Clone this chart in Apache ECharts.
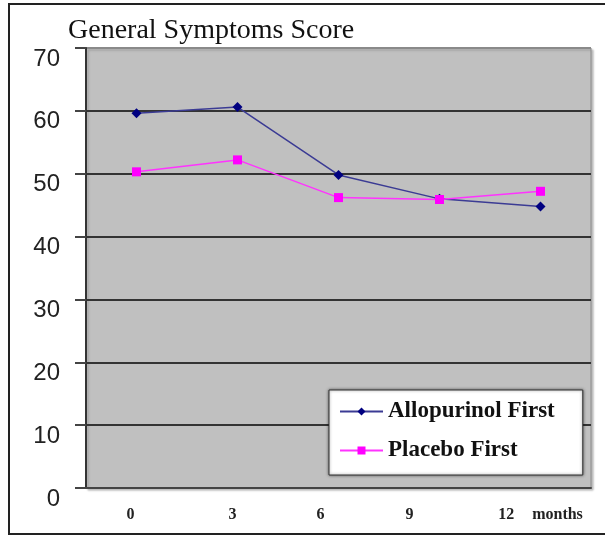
<!DOCTYPE html>
<html>
<head>
<meta charset="utf-8">
<script src="https://cdn.jsdelivr.net/npm/echarts@6/dist/echarts.min.js"></script>
<style>
html,body{margin:0;padding:0;background:#fff;}
#chart{width:605px;height:540px;}
</style>
</head>
<body>
<div id="chart"></div>
<script>
const titleText = 'General Symptoms Score';
const categories = ['0', '3', '6', '9', '12'];
const unitLabel = 'months';
const allopurinolFirst = [59.6, 60.6, 49.8, 46.0, 44.8];
const placeboFirst = [50.3, 52.2, 46.2, 45.9, 47.2];
const seriesNames = ['Allopurinol First', 'Placebo First'];
const yTicks = { min: 0, max: 70, interval: 10 };

const chart = echarts.init(document.getElementById('chart'), null, { renderer: 'canvas' });

const xRich = {
  a0: { padding: [0, 12, 0, 0] },
  a1: { padding: [0, 10, 0, 0] },
  a2: { padding: [0, 36, 0, 0] },
  a3: { padding: [0, 60, 0, 0] },
  a4: { padding: [0, 18, 0, 0] },
  u: { fontFamily: 'Liberation Serif', fontWeight: 'bold', fontSize: 16, color: '#222' }
};

const option = {
  animation: false,
  backgroundColor: '#ffffff',
  title: {
    text: titleText,
    left: 63,
    top: 12,
    textStyle: { fontFamily: 'Liberation Serif', fontWeight: 'normal', fontSize: 28, color: '#111' }
  },
  graphic: [{
    type: 'rect',
    shape: { x: 9, y: 4, width: 620, height: 530 },
    style: { fill: 'none', stroke: '#222', lineWidth: 2 },
    z: 0
  }],
  grid: {
    left: 86, right: 14, top: 48, bottom: 52,
    show: true,
    backgroundColor: '#c0c0c0',
    borderColor: '#8a8a8a',
    borderWidth: 1,
    shadowColor: 'rgba(0,0,0,0.25)',
    shadowOffsetX: 2,
    shadowOffsetY: 2,
    shadowBlur: 2
  },
  legend: {
    data: seriesNames,
    orient: 'vertical',
    left: 329,
    top: 390,
    width: 254,
    padding: [10, 28, 13, 10],
    itemGap: 16,
    itemWidth: 43,
    itemHeight: 10,
    backgroundColor: '#ffffff',
    borderColor: '#333',
    borderWidth: 1,
    shadowColor: 'rgba(0,0,0,0.5)',
    shadowBlur: 3,
    textStyle: { fontFamily: 'Liberation Serif', fontWeight: 'bold', fontSize: 23, color: '#111' }
  },
  xAxis: {
    type: 'category',
    data: categories,
    boundaryGap: true,
    axisLine: { show: true, lineStyle: { color: '#444', width: 2 } },
    axisTick: { show: false },
    splitLine: { show: false },
    axisLabel: {
      interval: 0,
      margin: 19,
      fontFamily: 'Liberation Serif',
      fontWeight: 'bold',
      fontSize: 16,
      color: '#222',
      rich: xRich,
      formatter: function (v, i) {
        if (i === categories.length - 1) return '{a4|' + v + '}{u|' + unitLabel + '}';
        return '{a' + i + '|' + v + '}';
      }
    }
  },
  yAxis: {
    type: 'value',
    min: yTicks.min,
    max: yTicks.max,
    interval: yTicks.interval,
    axisLine: { show: true, lineStyle: { color: '#333', width: 2 } },
    axisTick: { show: true, length: 11, lineStyle: { color: '#444', width: 2 } },
    splitLine: { show: true, lineStyle: { color: ['#333', '#333', '#333', '#333', '#333', '#333', '#333', '#8a8a8a'], width: 2 } },
    axisLabel: {
      margin: 26,
      fontFamily: 'Liberation Sans',
      fontSize: 24,
      color: '#222',
      verticalAlign: 'top',
      lineHeight: 22
    }
  },
  series: [
    {
      name: seriesNames[0],
      type: 'line',
      data: allopurinolFirst,
      symbol: 'diamond',
      symbolSize: 10,
      itemStyle: { color: '#000080' },
      lineStyle: { color: '#3b3b94', width: 1.5 },
      z: 3
    },
    {
      name: seriesNames[1],
      type: 'line',
      data: placeboFirst,
      symbol: 'rect',
      symbolSize: 9,
      itemStyle: { color: '#ff00ff' },
      lineStyle: { color: '#ff33ff', width: 1.5 },
      z: 4
    }
  ]
};

chart.setOption(option);
</script>
</body>
</html>
